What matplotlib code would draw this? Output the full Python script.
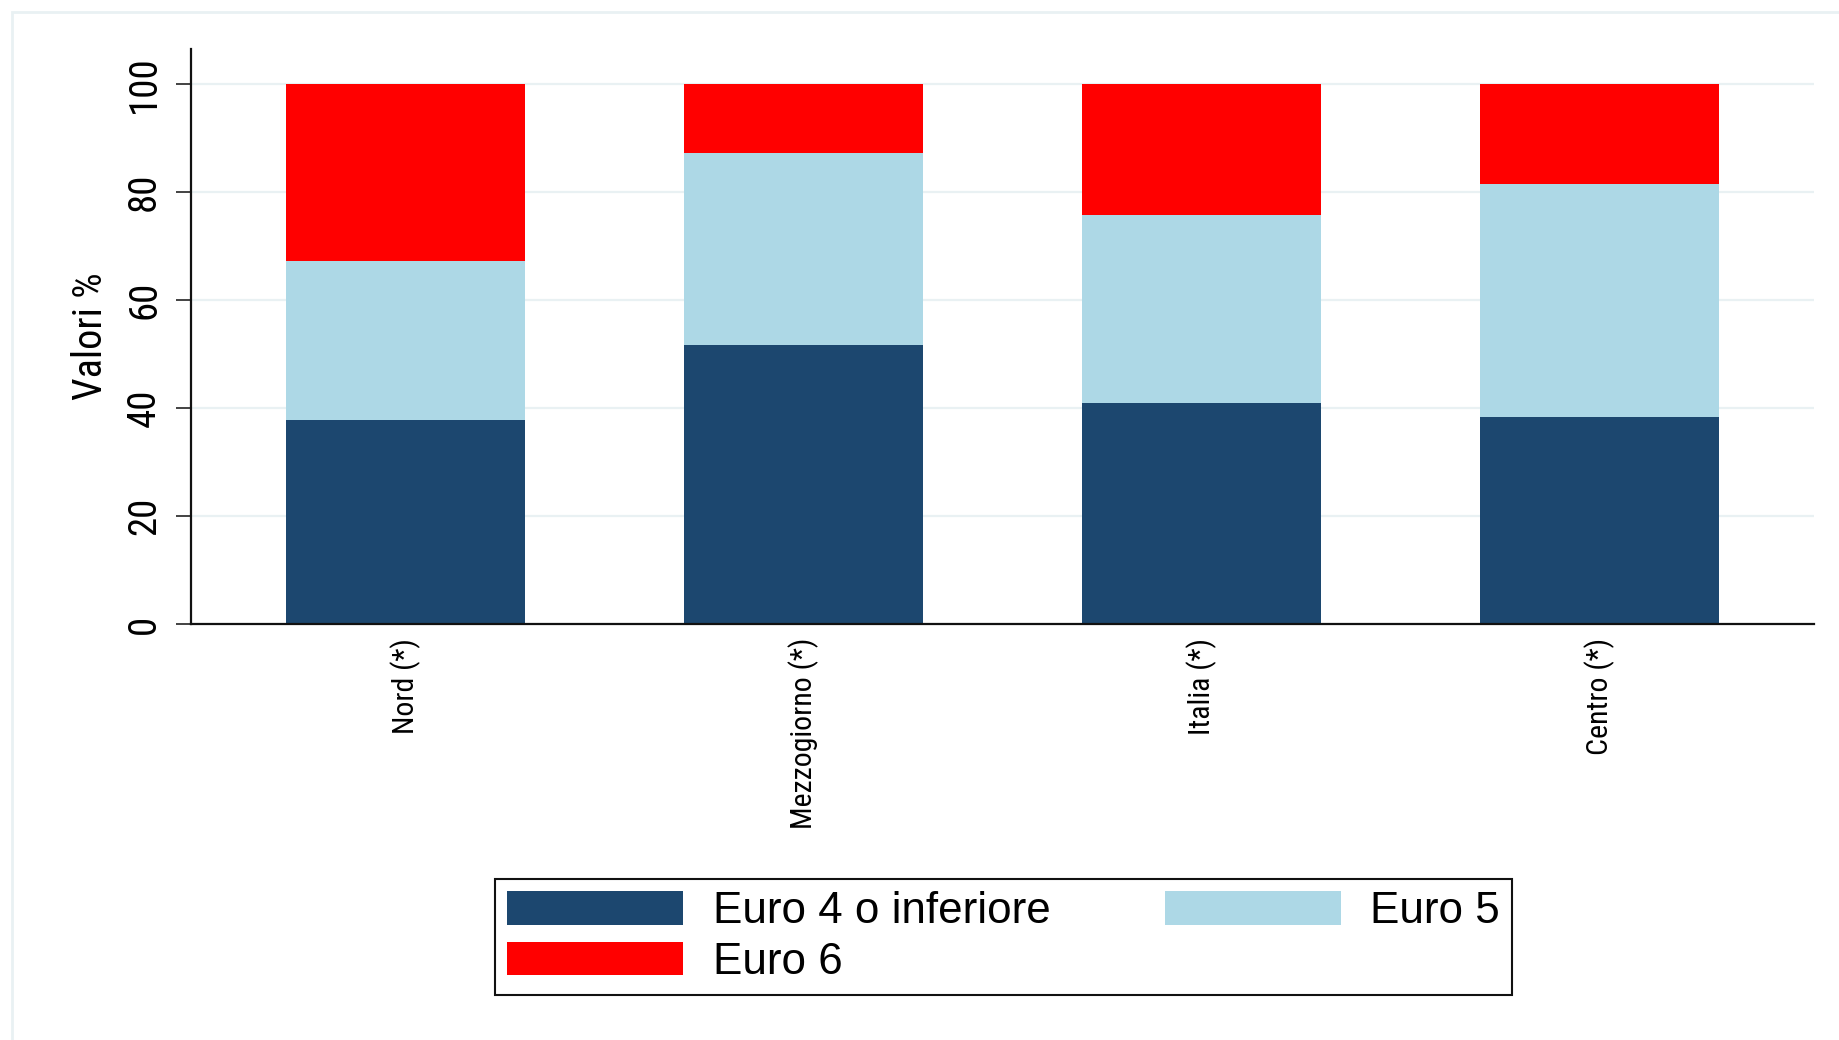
import matplotlib
matplotlib.use("Agg")
import matplotlib.pyplot as plt
from matplotlib.patches import Rectangle, Patch
import numpy as np

categories = ["Nord (*)", "Mezzogiorno (*)", "Italia (*)", "Centro (*)"]
euro4 = [37.8, 51.7, 40.9, 38.3]
euro5 = [29.4, 35.5, 34.8, 43.2]
euro6 = [32.8, 12.8, 24.3, 18.5]
series_labels = ["Euro 4 o inferiore", "Euro 5", "Euro 6"]
yticks = [0, 20, 40, 60, 80, 100]

c_dark = "#1c476f"
c_light = "#add8e6"
c_red = "#ff0000"
c_grid = "#e9f1f3"

narrow = ["Roboto Condensed", "Archivo Narrow", "PT Sans Narrow", "Liberation Sans"]
regular = ["Liberation Sans", "DejaVu Sans"]

fig = plt.figure(figsize=(18.39, 10.40), dpi=100)
W, H = 1839, 1040
ax = fig.add_axes([191 / W, 1 - 624 / H, (1814 - 191) / W, (624 - 49) / H])

x = np.arange(len(categories))
ax.bar(x, euro4, width=0.6, color=c_dark, linewidth=0)
ax.bar(x, euro5, width=0.6, bottom=euro4, color=c_light, linewidth=0)
bottom3 = [a + b for a, b in zip(euro4, euro5)]
ax.bar(x, euro6, width=0.6, bottom=bottom3, color=c_red, linewidth=0)

ax.set_xlim(-0.54, 3.54)
ax.set_ylim(0, 106.5)
ax.set_axisbelow(True)
ax.set_yticks(yticks)
ax.set_yticklabels([str(v) for v in yticks], rotation=90, va="center",
                   fontfamily=narrow, fontsize=28)
ax.yaxis.grid(True, color=c_grid, linewidth=1.6)
ax.tick_params(axis="y", length=11, width=1.2, color="#222222", pad=9)
ax.set_xticks(x)
ax.set_xticklabels(categories, rotation=90, fontfamily=narrow, fontsize=21.5)
ax.tick_params(axis="x", length=0, pad=10)
for s in ["top", "right"]:
    ax.spines[s].set_visible(False)
for s in ["left", "bottom"]:
    ax.spines[s].set_linewidth(1.6)
    ax.spines[s].set_color("#111111")

fig.text(91 / W, 1 - 336 / H, "Valori %", rotation=90, ha="center", va="center",
         fontfamily=narrow, fontsize=29)

handles = [Patch(color=c_dark, linewidth=0), Patch(color=c_red, linewidth=0),
           Patch(color=c_light, linewidth=0)]
labels = [series_labels[0], series_labels[2], series_labels[1]]
leg = fig.legend(handles, labels, loc="center", ncol=2,
                 bbox_to_anchor=(1003.5 / W, 1 - 937 / H),
                 prop={"family": regular, "size": 31.7},
                 handlelength=4.0, handleheight=0.8, handletextpad=0.66,
                 columnspacing=2.6, labelspacing=0.215, borderpad=0.28,
                 frameon=True, fancybox=False, framealpha=1)
leg.get_frame().set_edgecolor("#111111")
leg.get_frame().set_linewidth(1.5)

frame = Rectangle((12 / W, -0.05), 1.2, 1 - 12 / H + 0.05, transform=fig.transFigure,
                  fill=False, edgecolor=c_grid, linewidth=2.0, zorder=-1)
fig.patches.append(frame)

fig.savefig("out.png", dpi=100, facecolor="white")
